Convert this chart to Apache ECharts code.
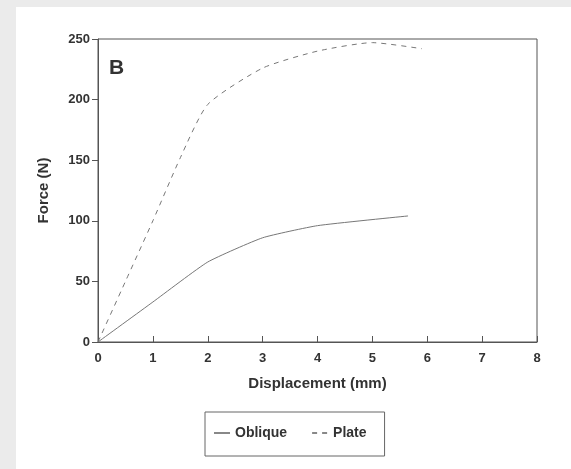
<!DOCTYPE html>
<html>
<head>
<meta charset="utf-8">
<script src="https://cdn.jsdelivr.net/npm/echarts@6/dist/echarts.min.js"></script>
<style>
  html, body { margin: 0; padding: 0; background: #fff; }
  #main { width: 571px; height: 469px; }
</style>
</head>
<body>
<div id="main"></div>
<script>
var xTicks = [0, 1, 2, 3, 4, 5, 6, 7, 8];
var yTicks = [0, 50, 100, 150, 200, 250];

// displacement (mm), force (N)
var obliqueX = [0, 1, 2, 3, 4, 5.65];
var obliqueY = [0, 33, 66, 86, 96, 104];
var plateX = [0, 0.5, 1, 1.5, 2, 3, 4, 5, 5.9];
var plateY = [0, 50, 100, 152, 196, 226, 240, 247, 242];

function pairs(xs, ys) {
  return xs.map(function (x, i) { return [x, ys[i]]; });
}

var chart = echarts.init(document.getElementById('main'));
var font = 'Liberation Sans, Arial, sans-serif';

var option = {
  backgroundColor: '#fff',
  animation: false,
  grid: {
    left: 98, right: 34, top: 39, bottom: 127,
    show: true, borderColor: '#555', borderWidth: 1
  },
  xAxis: {
    type: 'value',
    min: 0, max: 8, interval: 1,
    name: 'Displacement (mm)',
    nameLocation: 'middle',
    nameGap: 34,
    nameTextStyle: { fontFamily: font, fontWeight: 'bold', fontSize: 15, color: '#333' },
    axisLine: { lineStyle: { color: '#555', width: 1 } },
    axisTick: { inside: true, length: 6, lineStyle: { color: '#555' } },
    axisLabel: {
      fontFamily: font, fontWeight: 'bold', fontSize: 13, color: '#333', margin: 10,
      formatter: function (v) { return xTicks.indexOf(v) >= 0 ? String(v) : ''; }
    },
    splitLine: { show: false }
  },
  yAxis: {
    type: 'value',
    min: 0, max: 250, interval: 50,
    name: 'Force (N)',
    nameLocation: 'middle',
    nameGap: 47,
    nameTextStyle: { fontFamily: font, fontWeight: 'bold', fontSize: 15, color: '#333' },
    axisLine: { show: true, lineStyle: { color: '#555', width: 1 } },
    axisTick: { show: true, length: 6, lineStyle: { color: '#555' } },
    axisLabel: {
      fontFamily: font, fontWeight: 'bold', fontSize: 13, color: '#333', margin: 8,
      formatter: function (v) { return yTicks.indexOf(v) >= 0 ? String(v) : ''; }
    },
    splitLine: { show: false }
  },
  legend: {
    left: 205, top: 412,
    padding: [14, 18, 16, 8],
    borderColor: '#666', borderWidth: 1,
    itemWidth: 16, itemHeight: 10, itemGap: 24,
    itemStyle: { opacity: 0 },
    lineStyle: { color: '#888' },
    textStyle: { fontFamily: font, fontWeight: 'bold', fontSize: 14, color: '#333' },
    data: ['Oblique', 'Plate']
  },
  graphic: [
    { type: 'rect', left: 0, top: 0, shape: { width: 16, height: 469 }, style: { fill: '#ebebeb' } },
    { type: 'rect', left: 0, top: 0, shape: { width: 571, height: 7 }, style: { fill: '#ebebeb' } },
    {
      type: 'text', left: 109, top: 58,
      style: { text: 'B', fontFamily: font, fontWeight: 'bold', fontSize: 21, fill: '#333' }
    }
  ],
  series: [
    {
      name: 'Oblique', type: 'line', smooth: 0.15, symbol: 'none',
      lineStyle: { color: '#777', width: 1 },
      itemStyle: { color: '#777' },
      data: pairs(obliqueX, obliqueY)
    },
    {
      name: 'Plate', type: 'line', smooth: 0.2, symbol: 'none',
      lineStyle: { color: '#777', width: 1, type: [5, 5] },
      itemStyle: { color: '#777' },
      data: pairs(plateX, plateY)
    }
  ]
};

chart.setOption(option);
</script>
</body>
</html>
